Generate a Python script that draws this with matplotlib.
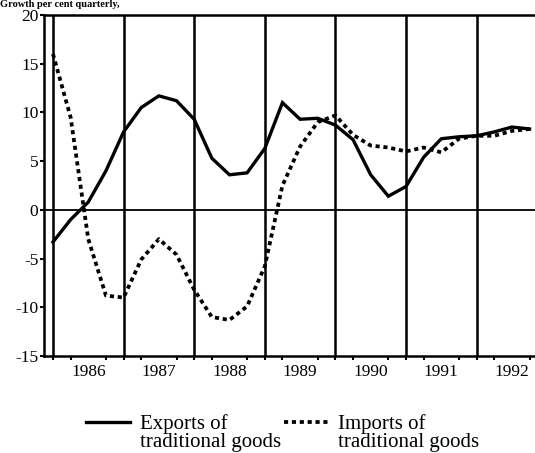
import matplotlib
matplotlib.use('Agg')
import matplotlib.pyplot as plt
import numpy as np

plt.rcParams['font.family'] = ['Liberation Serif', 'DejaVu Serif']

# quarterly data, first quarter 1986 .. last quarter 1992
quarters = np.arange(1986, 1993, 0.25)
exports = [-3.3, -1.0, 0.8, 4.0, 8.0, 10.5, 11.7, 11.2, 9.3, 5.3, 3.6, 3.8,
           6.3, 11.0, 9.3, 9.4, 8.7, 7.2, 3.6, 1.4, 2.4, 5.4, 7.3, 7.5,
           7.6, 8.0, 8.5, 8.3]
imports = [16.0, 9.5, -3.0, -8.8, -9.0, -5.1, -3.0, -4.6, -8.2, -11.0, -11.3, -9.9,
           -5.8, 2.5, 6.5, 9.0, 9.7, 7.7, 6.6, 6.4, 6.0, 6.4, 5.9, 7.3,
           7.6, 7.6, 8.1, 8.3]
years = [1986, 1987, 1988, 1989, 1990, 1991, 1992]
yticks = [20, 15, 10, 5, 0, -5, -10, -15]
W, H = 535, 453

fig = plt.figure(figsize=(W / 100, H / 100), dpi=100)
ax = fig.add_axes([44/W, 97/H, 491/W, 341/H])

for yr in years:
    ax.axvline(yr, color='black', lw=1.8, zorder=1)
ax.axhline(0, color='black', lw=1.3, zorder=1)

ax.plot(quarters, exports, color='black', lw=2.4, solid_joinstyle='miter',
        label='Exports of', zorder=3)
ax.plot(quarters, imports, color='black', lw=2.7, linestyle=(0, (1.1, 1.0)),
        dash_capstyle='butt', label='Imports of', zorder=3)

ax.set_xlim(1985.873, 1992.827)
ax.set_ylim(-15, 20)
ax.set_yticks(yticks)
ax.set_yticklabels([str(v) for v in yticks], fontsize=12.5)
ax.set_xticks([y + 0.5 for y in years])
ax.set_xticklabels([str(y) for y in years], fontsize=12.5)
ax.set_xticks(quarters, minor=True)
ax.tick_params(axis='x', which='major', length=0, pad=6)
ax.tick_params(axis='x', which='minor', length=3, width=1.5, direction='out')
ax.tick_params(axis='y', length=3, width=1.5, direction='out', pad=1)

for s in ['left', 'bottom', 'top']:
    ax.spines[s].set_linewidth(1.8)
ax.spines['right'].set_visible(False)

fig.text(0.0, 1.0, 'Growth per cent quarterly,', fontsize=7.5, fontweight='bold',
         va='top', ha='left')

# legend: first line next to the line sample, second line below it
leg = fig.legend(loc='center left', bbox_to_anchor=(86/W, (H - 424)/H), ncol=2,
                 frameon=False, fontsize=15, handlelength=2.1, handletextpad=0.5,
                 columnspacing=2.7, borderpad=0, borderaxespad=0)
fig.canvas.draw()
for t in leg.get_texts():
    bb = t.get_window_extent()
    fig.text(bb.x0 / W, (bb.y0 - 18.5) / H, 'traditional goods', fontsize=15,
             ha='left', va='bottom')

fig.savefig('out.png', dpi=100)
